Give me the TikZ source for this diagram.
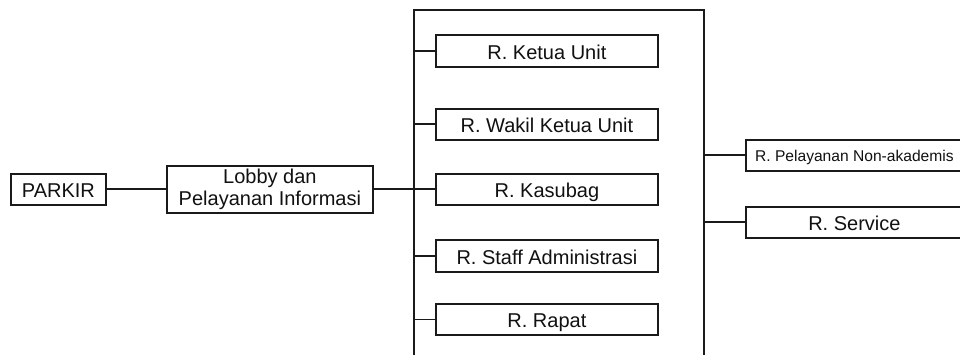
\documentclass[tikz,border=0pt]{standalone}
\usepackage{fontspec}
\setmainfont{Liberation Sans}
\definecolor{ln}{HTML}{1A1A1A}
\definecolor{tx}{HTML}{111111}
\begin{document}
\begin{tikzpicture}[x=1pt,y=-1pt,
  wire/.style={draw=ln, line width=1.8pt},
  basebox/.style={draw=ln, line width=1.8pt, rectangle, inner sep=0pt, anchor=north west, text=tx, fill=white},
  roombox/.style={basebox, font=\fontsize{20}{21.7}\selectfont, text height=17pt, text depth=0pt},
  smallbox/.style={basebox, font=\fontsize{15.6}{18}\selectfont, text height=13pt, text depth=0pt}]
\useasboundingbox (0,0) rectangle (960,355);
\clip (0,0) rectangle (960,355);
\fill[white] (0,0) rectangle (960,355);
% spine coordinates
\coordinate (tl) at (414,10);
\coordinate (tr) at (704,10);
\coordinate (bl) at (414,362);
\coordinate (br) at (704,362);
% nodes
\node[roombox, minimum width=95pt, minimum height=31pt] (parkir) at (10,173) {PARKIR};
\node[basebox, minimum width=206pt, minimum height=47pt, align=center, font=\fontsize{20}{21.7}\selectfont] (lobby) at (166,165) {Lobby dan\\Pelayanan Informasi};
\node[roombox, minimum width=222pt, minimum height=32pt] (ketua) at (435,34) {R. Ketua Unit};
\node[roombox, minimum width=222pt, minimum height=31pt] (wakil) at (435,108) {R. Wakil Ketua Unit};
\node[roombox, minimum width=222pt, minimum height=31pt] (kasubag) at (435,173) {R. Kasubag};
\node[roombox, minimum width=222pt, minimum height=32pt] (staff) at (435,239) {R. Staff Administrasi};
\node[roombox, minimum width=222pt, minimum height=31pt] (rapat) at (435,303) {R. Rapat};
\node[smallbox, minimum width=217pt, minimum height=31pt] (pelayanan) at (745,139) {R. Pelayanan Non-akademis};
\node[roombox, minimum width=217pt, minimum height=31pt] (service) at (745,206) {R. Service};
% connectors
\draw[wire] (bl) -- (tl) -- (tr) -- (br);
\draw[wire] (parkir.east) -- (lobby.west);
\draw[wire] (lobby.east) -- (lobby.east -| tl);
\foreach \n in {ketua,wakil,kasubag,staff,rapat}
  \draw[wire] (\n.west -| tl) -- (\n.west);
\foreach \n in {pelayanan,service}
  \draw[wire] (\n.west -| tr) -- (\n.west);
\end{tikzpicture}
\end{document}
